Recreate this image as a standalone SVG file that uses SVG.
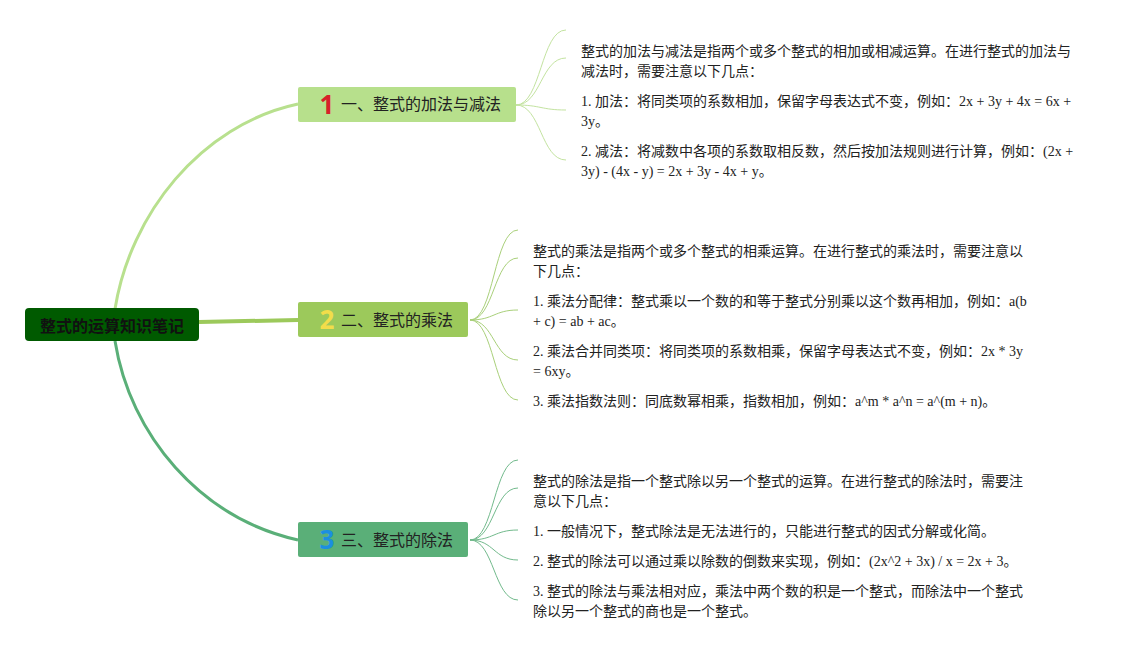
<svg xmlns="http://www.w3.org/2000/svg" width="1141" height="650" viewBox="0 0 1141 650">
<style>
.t{font-family:"Liberation Serif","Noto Sans CJK SC",serif;font-size:14px;fill:#222}
.bt{font-family:"Noto Sans CJK SC","Noto Sans",sans-serif;font-size:16px;fill:#222}
.num{font-family:"Noto Sans","Liberation Sans",sans-serif;font-size:26px;font-weight:bold}
.lf{fill:none;stroke-width:1}
</style>
<rect width="1141" height="650" fill="#ffffff"/>
<g id="connectors">
<path d="M115 309 C130 215 200 125 298 104" fill="none" stroke="#b8e08e" stroke-width="3"/>
<path d="M199 322 L298 320" fill="none" stroke="#9cc95b" stroke-width="4"/>
<path d="M115 341 C130 435 200 518 298 540" fill="none" stroke="#5aaf78" stroke-width="3"/>
<g stroke="#c3e3a0" class="lf">
<path d="M516 105 C541 105 541 30 566 30"/>
<path d="M516 105 C541 105 541 58 566 58"/>
<path d="M516 105 C541 105 541 110 566 110"/>
<path d="M516 105 C541 105 541 160 566 160"/>
</g>
<g stroke="#a9d07a" class="lf">
<path d="M470 320 C494 320 494 230 518 230"/>
<path d="M470 320 C494 320 494 258 518 258"/>
<path d="M470 320 C494 320 494 310 518 310"/>
<path d="M470 320 C494 320 494 360 518 360"/>
<path d="M470 320 C494 320 494 400 518 400"/>
</g>
<g stroke="#72ba8c" class="lf">
<path d="M470 540 C494 540 494 460 518 460"/>
<path d="M470 540 C494 540 494 488 518 488"/>
<path d="M470 540 C494 540 494 530 518 530"/>
<path d="M470 540 C494 540 494 560 518 560"/>
<path d="M470 540 C494 540 494 600 518 600"/>
</g>
</g>
<g id="root">
<rect x="25" y="308" width="174" height="33" rx="4" fill="#005a00"/>
<text x="112" y="332" text-anchor="middle" font-family="Noto Sans CJK SC, sans-serif" font-size="16" font-weight="bold" fill="#111">整式的运算知识笔记</text>
</g>
<g id="b1">
<rect x="298" y="87" width="218" height="35" rx="2" fill="#b7e08c"/>
<text x="327" y="114" class="num" fill="#d8202a" text-anchor="middle">1</text>
<text x="341" y="110" class="bt">一、整式的加法与减法</text>
</g>
<g id="b2">
<rect x="298" y="302" width="170" height="35" rx="2" fill="#9cc95b"/>
<text x="327" y="329" class="num" fill="#f2dd4a" text-anchor="middle">2</text>
<text x="341" y="326" class="bt">二、整式的乘法</text>
</g>
<g id="b3">
<rect x="298" y="522" width="170" height="35" rx="2" fill="#5aaf78"/>
<text x="327" y="549" class="num" fill="#1b8fe0" text-anchor="middle">3</text>
<text x="341" y="546" class="bt">三、整式的除法</text>
</g>
<g id="leaf1" class="t">
<text x="581" y="56" textLength="490" lengthAdjust="spacingAndGlyphs">整式的加法与减法是指两个或多个整式的相加或相减运算。在进行整式的加法与</text>
<text x="581" y="76">减法时，需要注意以下几点：</text>
<text x="581" y="106">1. 加法：将同类项的系数相加，保留字母表达式不变，例如：2x + 3y + 4x = 6x +</text>
<text x="581" y="126">3y。</text>
<text x="581" y="156">2. 减法：将减数中各项的系数取相反数，然后按加法规则进行计算，例如：(2x +</text>
<text x="581" y="176">3y) - (4x - y) = 2x + 3y - 4x + y。</text>
</g>
<g id="leaf2" class="t">
<text x="533" y="256">整式的乘法是指两个或多个整式的相乘运算。在进行整式的乘法时，需要注意以</text>
<text x="533" y="276">下几点：</text>
<text x="533" y="306">1. 乘法分配律：整式乘以一个数的和等于整式分别乘以这个数再相加，例如：a(b</text>
<text x="533" y="326">+ c) = ab + ac。</text>
<text x="533" y="356">2. 乘法合并同类项：将同类项的系数相乘，保留字母表达式不变，例如：2x * 3y</text>
<text x="533" y="376">= 6xy。</text>
<text x="533" y="406">3. 乘法指数法则：同底数幂相乘，指数相加，例如：a^m * a^n = a^(m + n)。</text>
</g>
<g id="leaf3" class="t">
<text x="533" y="486">整式的除法是指一个整式除以另一个整式的运算。在进行整式的除法时，需要注</text>
<text x="533" y="506">意以下几点：</text>
<text x="533" y="536">1. 一般情况下，整式除法是无法进行的，只能进行整式的因式分解或化简。</text>
<text x="533" y="566">2. 整式的除法可以通过乘以除数的倒数来实现，例如：(2x^2 + 3x) / x = 2x + 3。</text>
<text x="533" y="596">3. 整式的除法与乘法相对应，乘法中两个数的积是一个整式，而除法中一个整式</text>
<text x="533" y="616">除以另一个整式的商也是一个整式。</text>
</g>
</svg>
